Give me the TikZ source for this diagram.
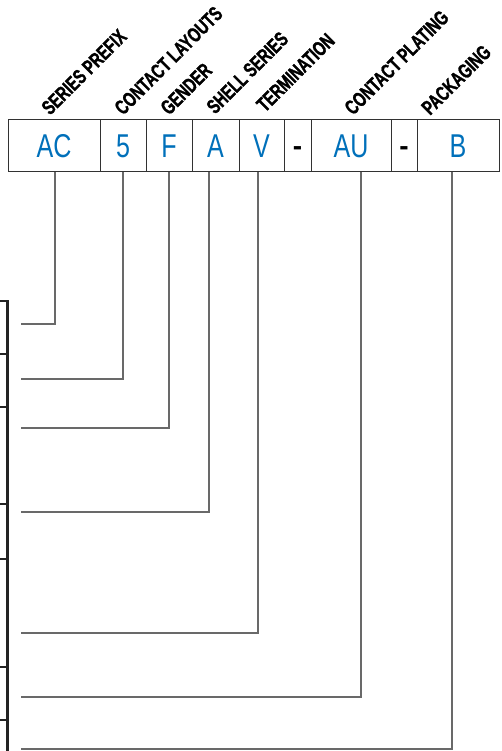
\documentclass[tikz,border=0pt]{standalone}
\usepackage{fontspec}
\setmainfont{Liberation Sans}
\newfontfamily\labfont[FakeStretch=0.71, FakeBold=1.4]{Liberation Sans Bold}
\newfontfamily\boxfont[FakeStretch=0.76]{Liberation Sans}
\newfontfamily\dashfont{Liberation Sans Bold}
\definecolor{codeblue}{RGB}{0,112,186}
\definecolor{boxc}{RGB}{50,50,50}
\definecolor{connc}{RGB}{105,105,105}
\definecolor{framec}{RGB}{35,35,35}
\tikzset{
 cell/.style={draw=boxc, line width=1pt, minimum height=52pt, inner sep=0pt, text height=24pt, text depth=0pt, font=\boxfont\fontsize{33}{33}\selectfont, text=codeblue},
 dashcell/.style={cell, font=\dashfont\fontsize{28}{28}\selectfont, text=black},
 lab/.style={rotate=45, anchor=base west, inner sep=0pt, font=\labfont\fontsize{20.5}{20.5}\selectfont},
 conn/.style={draw=connc, line width=1.2pt},
 framel/.style={draw=framec, line width=2.5pt}
}
\begin{document}
\begin{tikzpicture}[x=1pt,y=-1pt]
\useasboundingbox (0,0) rectangle (502,751);
% code cells
\node[cell, minimum width=92pt] (cAC) at (54,146) {AC};
\node[cell, minimum width=46pt] (c5) at (123,146) {5};
\node[cell, minimum width=46pt] (cF) at (169,146) {F};
\node[cell, minimum width=47pt] (cA) at (215.5,146) {A};
\node[cell, minimum width=45pt] (cV) at (261.5,146) {V};
\node[dashcell, minimum width=27pt] (d1) at (297.5,146) {\raisebox{2.5pt}{-}};
\node[cell, minimum width=80pt] (cAU) at (351,146) {AU};
\node[dashcell, minimum width=26pt] (d2) at (404,146) {\raisebox{2.5pt}{-}};
\node[cell, minimum width=82pt] (cB) at (458,146) {B};
% labels
\node[lab] (lSP) at (50,116) {SERIES PREFIX};
\node[lab] (lCL) at (123,116) {CONTACT LAYOUTS};
\node[lab] (lG) at (169,116) {GENDER};
\node[lab] (lSS) at (215,115) {SHELL SERIES};
\node[lab] (lT) at (265,113) {TERMINATION};
\node[lab] (lCP) at (353,116) {CONTACT PLATING};
\node[lab] (lP) at (430,116) {PACKAGING};
% connector ends
\coordinate (eAC) at (21,324);
\coordinate (e5) at (21,379);
\coordinate (eF) at (21,428);
\coordinate (eA) at (21,512);
\coordinate (eV) at (21,633);
\coordinate (eAU) at (21,697);
\coordinate (eB) at (21,749);
\draw[conn] ([xshift=1pt]cAC.south) |- (eAC);
\draw[conn] (c5.south) |- (e5);
\draw[conn] (cF.south) |- (eF);
\draw[conn] ([xshift=-6.5pt]cA.south) |- (eA);
\draw[conn] ([xshift=-3.5pt]cV.south) |- (eV);
\draw[conn] ([xshift=10pt]cAU.south) |- (eAU);
\draw[conn] ([xshift=-6pt]cB.south) |- (eB);
% left table edge
\draw[framel] (0,301) -- (7.5,301) -- (7.5,751);
\foreach \yy in {354,407,504,559,667,720} \draw[framel] (0,\yy) -- (7.5,\yy);
\end{tikzpicture}
\end{document}
